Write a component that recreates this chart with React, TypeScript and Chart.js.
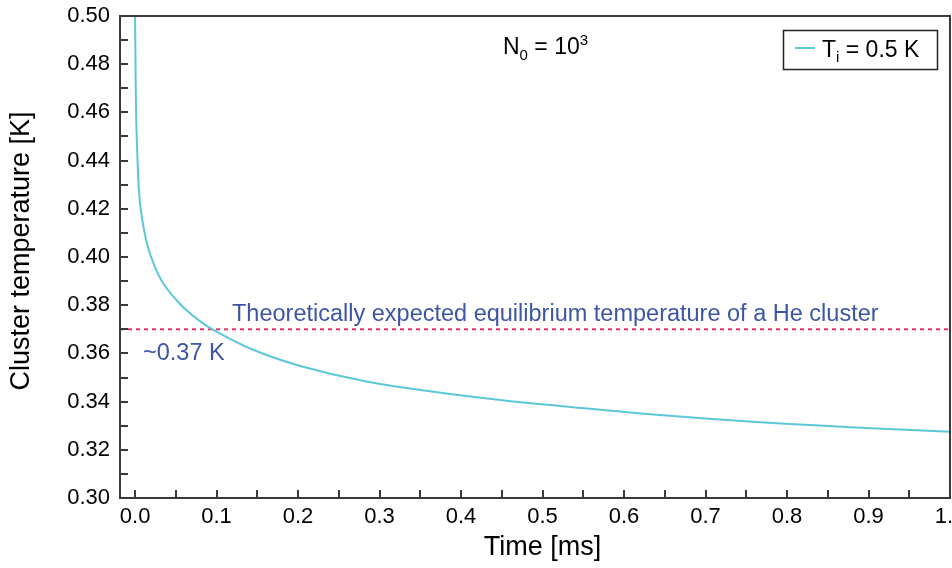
import { useEffect, useRef } from "react";
import { Chart, registerables } from "chart.js";

Chart.register(...registerables);

// Cluster cooling curve, N0 = 10^3, initial temperature 0.5 K
const timeMs = [
  0, 0.0005, 0.001, 0.002, 0.003, 0.0045, 0.007, 0.0144, 0.0225, 0.0347, 0.0552,
  0.0774, 0.095, 0.145, 0.2025, 0.284, 0.366, 0.448, 0.5215, 0.644, 0.767, 0.89, 1.0,
];
const temperatureK = [
  0.5, 0.482, 0.465, 0.45, 0.4405, 0.429, 0.4195, 0.4058, 0.3975, 0.389, 0.3805,
  0.3739, 0.37, 0.3615, 0.3548, 0.3483, 0.3441, 0.3407, 0.3382, 0.3344, 0.3314, 0.3292, 0.3275,
];

// Expected equilibrium temperature of a He cluster
const equilibriumK = 0.37;

// Axis ranges and tick positions (major ticks carry labels, minor ones do not)
const xRange = [-0.0185, 1.0];
const yRange = [0.3, 0.5];
const xTickValues = [
  0, 0.05, 0.1, 0.15, 0.2, 0.25, 0.3, 0.35, 0.4, 0.45, 0.5,
  0.55, 0.6, 0.65, 0.7, 0.75, 0.8, 0.85, 0.9, 0.95, 1.0,
];
const yTickValues = [
  0.3, 0.31, 0.32, 0.33, 0.34, 0.35, 0.36, 0.37, 0.38, 0.39, 0.4,
  0.41, 0.42, 0.43, 0.44, 0.45, 0.46, 0.47, 0.48, 0.49, 0.5,
];

const FONT = "'Liberation Sans', Arial, Helvetica, sans-serif";
const CURVE_COLOR = "#5cc8d7";
const EQ_COLOR = "#e8336b";
const NOTE_COLOR = "#3d55a5";
const AXIS_COLOR = "#3a3a3a";
const TEXT_COLOR = "#000";

type Run = { t: string; size: number; dy: number };

function drawRuns(ctx: CanvasRenderingContext2D, x: number, y: number, runs: Run[]) {
  let cx = x;
  for (const r of runs) {
    ctx.font = `${r.size}px ${FONT}`;
    ctx.fillText(r.t, cx, y + r.dy);
    cx += ctx.measureText(r.t).width;
  }
  return cx;
}

const decorations = {
  id: "decorations",
  afterDraw(chart: any) {
    const { ctx, chartArea } = chart;
    const { left, right, top, bottom } = chartArea;
    const xs = chart.scales.x;
    const ys = chart.scales.y;
    ctx.save();

    // inward tick marks
    ctx.strokeStyle = AXIS_COLOR;
    ctx.lineWidth = 2;
    ctx.beginPath();
    xs.ticks.forEach((t: any) => {
      const px = Math.round(xs.getPixelForValue(t.value));
      ctx.moveTo(px, bottom);
      ctx.lineTo(px, bottom - 8);
    });
    ys.ticks.forEach((t: any) => {
      const py = Math.round(ys.getPixelForValue(t.value));
      ctx.moveTo(left, py);
      ctx.lineTo(left + 8, py);
    });
    ctx.stroke();

    // frame
    ctx.strokeRect(left, top, right - left, bottom - top);

    // axis titles
    ctx.fillStyle = TEXT_COLOR;
    ctx.font = `27px ${FONT}`;
    ctx.textAlign = "center";
    ctx.textBaseline = "middle";
    ctx.fillText("Time [ms]", xs.getPixelForValue(0.5), 548);
    ctx.save();
    ctx.translate(22, ys.getPixelForValue(0.4025));
    ctx.rotate(-Math.PI / 2);
    ctx.fillText("Cluster temperature [K]", 0, 0);
    ctx.restore();

    ctx.textBaseline = "alphabetic";
    ctx.textAlign = "left";

    // N0 = 10^3
    ctx.fillStyle = TEXT_COLOR;
    drawRuns(ctx, 503, 54, [
      { t: "N", size: 23, dy: 0 },
      { t: "0", size: 15, dy: 6 },
      { t: " = 10", size: 23, dy: 0 },
      { t: "3", size: 15, dy: -9 },
    ]);

    // legend
    ctx.lineWidth = 1.5;
    ctx.strokeStyle = "#222";
    ctx.strokeRect(783.5, 30.5, 154, 39);
    ctx.strokeStyle = CURVE_COLOR;
    ctx.lineWidth = 2;
    ctx.beginPath();
    ctx.moveTo(795, 48);
    ctx.lineTo(815, 48);
    ctx.stroke();
    ctx.fillStyle = TEXT_COLOR;
    drawRuns(ctx, 822, 57, [
      { t: "T", size: 23, dy: 0 },
      { t: "i", size: 15, dy: 5 },
      { t: " = 0.5 K", size: 23, dy: 0 },
    ]);

    // equilibrium annotations
    const lineY = ys.getPixelForValue(equilibriumK);
    ctx.fillStyle = NOTE_COLOR;
    ctx.font = `23.5px ${FONT}`;
    ctx.fillText("Theoretically expected equilibrium temperature of a He cluster", 232, lineY - 8);
    ctx.fillText("~0.37 K", 143, lineY + 31);

    ctx.restore();
  },
};

export default function App() {
  const ref = useRef<HTMLCanvasElement | null>(null);

  useEffect(() => {
    if (!ref.current) return;
    const chart = new Chart(ref.current, {
      type: "line",
      data: {
        datasets: [
          {
            label: "Ti = 0.5 K",
            data: timeMs.map((t, i) => ({ x: t, y: temperatureK[i] })),
            borderColor: CURVE_COLOR,
            borderWidth: 2,
            pointRadius: 0,
            tension: 0.4,
            fill: false,
          },
          {
            label: "equilibrium",
            data: [
              { x: xRange[0], y: equilibriumK },
              { x: xRange[1], y: equilibriumK },
            ],
            borderColor: EQ_COLOR,
            borderWidth: 2,
            borderDash: [4, 4],
            pointRadius: 0,
            fill: false,
          },
        ],
      },
      options: {
        responsive: false,
        animation: false,
        layout: { padding: { left: 0, right: 2, top: 16, bottom: 0 } },
        plugins: {
          legend: { display: false },
          tooltip: { enabled: false },
        },
        scales: {
          x: {
            type: "linear",
            min: xRange[0],
            max: xRange[1],
            grid: { display: false, drawTicks: false },
            border: { display: false },
            afterBuildTicks: (scale: any) => {
              scale.ticks = xTickValues.map((v) => ({ value: v }));
            },
            afterFit: (scale: any) => {
              scale.height = 70;
              scale.paddingLeft = 0;
              scale.paddingRight = 0;
            },
            ticks: {
              autoSkip: false,
              maxRotation: 0,
              padding: 6,
              color: TEXT_COLOR,
              font: { family: FONT, size: 22 },
              callback: (v: any) => (Math.round(Number(v) * 100) % 10 === 0 ? Number(v).toFixed(1) : ""),
            },
          },
          y: {
            type: "linear",
            min: yRange[0],
            max: yRange[1],
            grid: { display: false, drawTicks: false },
            border: { display: false },
            afterBuildTicks: (scale: any) => {
              scale.ticks = yTickValues.map((v) => ({ value: v }));
            },
            afterFit: (scale: any) => {
              scale.width = 120;
              scale.paddingTop = 0;
              scale.paddingBottom = 0;
            },
            ticks: {
              autoSkip: false,
              padding: 10,
              color: TEXT_COLOR,
              font: { family: FONT, size: 22 },
              callback: (v: any) => (Math.round(Number(v) * 100) % 2 === 0 ? Number(v).toFixed(2) : ""),
            },
          },
        },
      },
      plugins: [decorations],
    });
    return () => chart.destroy();
  }, []);

  return (
    <div style={{ position: "fixed", left: 0, top: 0, width: 952, height: 568, background: "#fff" }}>
      <canvas ref={ref} width={952} height={568} style={{ display: "block" }} />
    </div>
  );
}
